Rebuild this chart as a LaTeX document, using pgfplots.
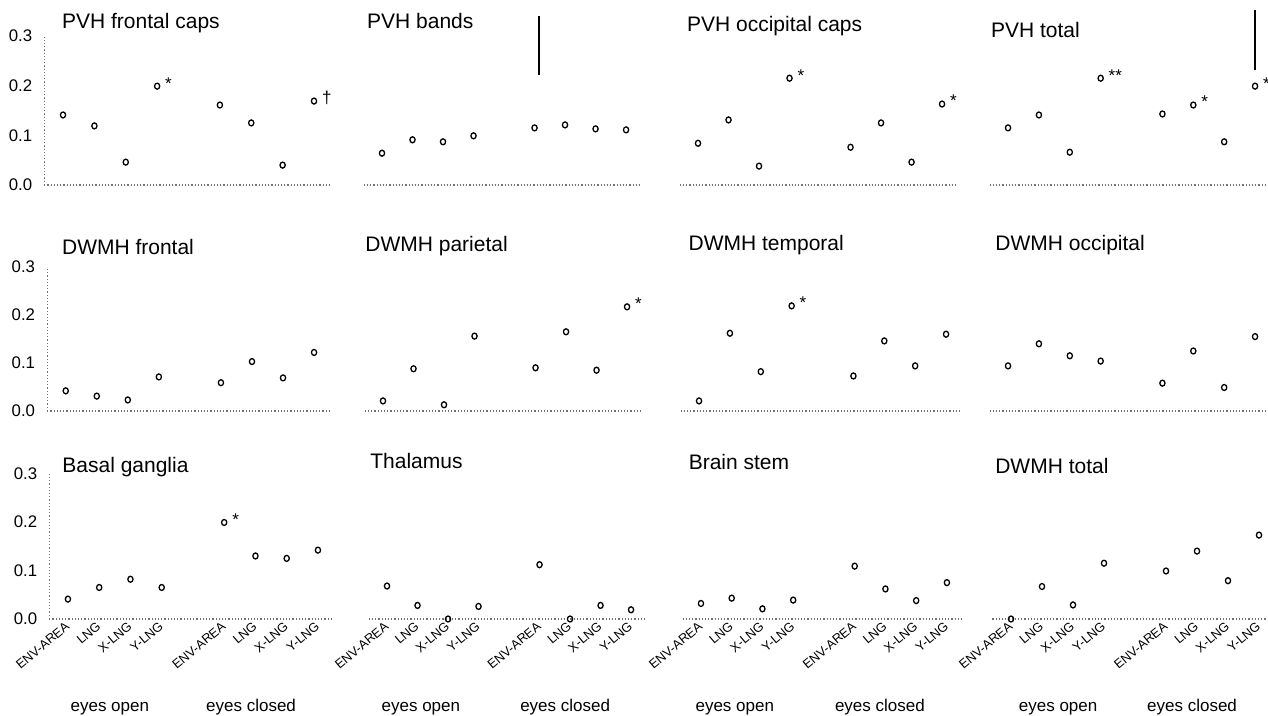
\documentclass[border=0pt]{standalone}
\usepackage{fontspec}
\setmainfont{Liberation Sans}
\usepackage{pgfplots}
\pgfplotsset{compat=1.18}
\pgfplotsset{
  panel/.style={
    scale only axis, clip=false, anchor=south west,
    xmin=0.4, xmax=9.5, ymin=0, ymax=0.3,
    axis x line=bottom, axis y line=left,
    axis line style={-},
    x axis line style={densely dotted, black!55, line width=0.6pt},
    y axis line style={draw=none},
    xtick=\empty, ytick=\empty, major tick length=0pt,
    /pgf/number format/assume math mode=true,
  },
  firstcol/.style={
    y axis line style={draw=black!55, densely dotted, line width=0.6pt},
    ytick={0,0.1,0.2,0.3}, yticklabels={0.0,0.1,0.2,0.3},
    yticklabel style={font=\fontsize{8.4}{9}\selectfont, xshift=-2.5pt},
  },
  bottomrow/.style={
    xtick={1,2,3,4,6,7,8,9},
    xticklabels={ENV-AREA,LNG,X-LNG,Y-LNG,ENV-AREA,LNG,X-LNG,Y-LNG},
    xticklabel style={rotate=40, anchor=east, font=\fontsize{6.4}{7}\selectfont, yshift=-2pt, xshift=1.5pt},
  },
  pts/.style={only marks, mark=o, mark size=1.3pt, mark options={line width=0.65pt, black, yscale=1.15}},
  ann/.style={draw=none, mark=none, nodes near coords, point meta=explicit symbolic,
    nodes near coords style={anchor=west, font=\fontsize{8.5}{9}\selectfont, xshift=0.5pt, yshift=1.5pt}},
}
\newcommand{\ttl}[3]{\node[anchor=base west, font=\fontsize{10.5}{12}\selectfont, inner sep=0pt] at (axis cs:#1,#2) {#3};}
\newcommand{\grp}[2]{\node[anchor=base, font=\fontsize{8.5}{10}\selectfont, inner sep=0pt] at (axis cs:#1,-0.19) {#2};}
\begin{document}
\begin{tikzpicture}
\useasboundingbox (0,0) rectangle (634pt,-358pt);
% ---------------- Row 1
\begin{axis}[panel, firstcol, at={(22.1pt,-92.5pt)}, width=142.75pt, height=74.5pt]
\addplot[pts] coordinates {(1,0.141)(2,0.119)(3,0.046)(4,0.199)(6,0.161)(7,0.125)(8,0.040)(9,0.169)};
\addplot[ann] coordinates {(4,0.199)[*] (9,0.169)[†]};
\ttl{0.96}{0.315}{PVH frontal caps}
\end{axis}
\begin{axis}[panel, at={(181.85pt,-92.5pt)}, width=138.8pt, height=74.5pt]
\addplot[pts] coordinates {(1,0.064)(2,0.091)(3,0.087)(4,0.099)(6,0.115)(7,0.121)(8,0.113)(9,0.111)};
\addplot[black, line width=0.8pt, mark=none] coordinates {(6.15,0.221)(6.15,0.34)};
\ttl{0.5}{0.316}{PVH bands}
\end{axis}
\begin{axis}[panel, at={(339.85pt,-92.5pt)}, width=138.8pt, height=74.5pt]
\addplot[pts] coordinates {(1,0.084)(2,0.131)(3,0.038)(4,0.215)(6,0.076)(7,0.125)(8,0.046)(9,0.163)};
\addplot[ann] coordinates {(4,0.215)[*] (9,0.163)[*]};
\ttl{0.63}{0.31}{PVH occipital caps}
\end{axis}
\begin{axis}[panel, at={(494.75pt,-92.5pt)}, width=140.5pt, height=74.5pt]
\addplot[pts] coordinates {(1,0.115)(2,0.141)(3,0.066)(4,0.215)(6,0.143)(7,0.161)(8,0.087)(9,0.199)};
\addplot[ann] coordinates {(4,0.215)[**] (7,0.161)[*] (9,0.199)[*]};
\addplot[black, line width=0.8pt, mark=none] coordinates {(9,0.231)(9,0.352)};
\ttl{0.44}{0.297}{PVH total}
\end{axis}
% ---------------- Row 2
\begin{axis}[panel, firstcol, at={(23.55pt,-205.5pt)}, width=141.25pt, height=72pt]
\addplot[pts] coordinates {(1,0.042)(2,0.031)(3,0.023)(4,0.071)(6,0.059)(7,0.103)(8,0.069)(9,0.122)};
\ttl{0.87}{0.327}{DWMH frontal}
\end{axis}
\begin{axis}[panel, at={(182.35pt,-205.5pt)}, width=138.8pt, height=72pt]
\addplot[pts] coordinates {(1,0.021)(2,0.088)(3,0.013)(4,0.156)(6,0.090)(7,0.165)(8,0.085)(9,0.217)};
\addplot[ann] coordinates {(9,0.217)[*]};
\ttl{0.41}{0.333}{DWMH parietal}
\end{axis}
\begin{axis}[panel, at={(340.25pt,-205.5pt)}, width=140.5pt, height=72pt]
\addplot[pts] coordinates {(1,0.021)(2,0.162)(3,0.082)(4,0.219)(6,0.073)(7,0.146)(8,0.094)(9,0.160)};
\addplot[ann] coordinates {(4,0.219)[*]};
\ttl{0.65}{0.334}{DWMH temporal}
\end{axis}
\begin{axis}[panel, at={(494.75pt,-205.5pt)}, width=140.5pt, height=72pt]
\addplot[pts] coordinates {(1,0.094)(2,0.140)(3,0.115)(4,0.104)(6,0.058)(7,0.125)(8,0.049)(9,0.155)};
\ttl{0.58}{0.335}{DWMH occipital}
\end{axis}
% ---------------- Row 3
\begin{axis}[panel, firstcol, bottomrow, at={(24.6pt,-309.5pt)}, width=142.2pt, height=72.75pt]
\addplot[pts] coordinates {(1,0.041)(2,0.065)(3,0.082)(4,0.065)(6,0.199)(7,0.130)(8,0.125)(9,0.142)};
\addplot[ann] coordinates {(6,0.199)[*]};
\ttl{0.81}{0.303}{Basal ganglia}
\grp{2.34}{eyes open}\grp{6.86}{eyes closed}
\end{axis}
\begin{axis}[panel, bottomrow, at={(184.35pt,-309.5pt)}, width=138.8pt, height=72.75pt]
\addplot[pts] coordinates {(1,0.068)(2,0.028)(3,0.0)(4,0.026)(6,0.112)(7,0.0)(8,0.028)(9,0.019)};
\ttl{0.44}{0.31}{Thalamus}
\grp{2.11}{eyes open}\grp{6.84}{eyes closed}
\end{axis}
\begin{axis}[panel, bottomrow, at={(341.25pt,-309.5pt)}, width=139.9pt, height=72.75pt]
\addplot[pts] coordinates {(1,0.032)(2,0.043)(3,0.021)(4,0.039)(6,0.109)(7,0.062)(8,0.038)(9,0.075)};
\ttl{0.59}{0.309}{Brain stem}
\grp{2.1}{eyes open}\grp{6.82}{eyes closed}
\end{axis}
\begin{axis}[panel, bottomrow, at={(496.2pt,-309.5pt)}, width=141.05pt, height=72.75pt]
\addplot[pts] coordinates {(1,0.0)(2,0.067)(3,0.029)(4,0.115)(6,0.099)(7,0.140)(8,0.079)(9,0.173)};
\addplot[ann] coordinates {(9,0.173)[†]};
\ttl{0.48}{0.30}{DWMH total}
\grp{2.52}{eyes open}\grp{6.84}{eyes closed}
\end{axis}
\end{tikzpicture}
\end{document}
